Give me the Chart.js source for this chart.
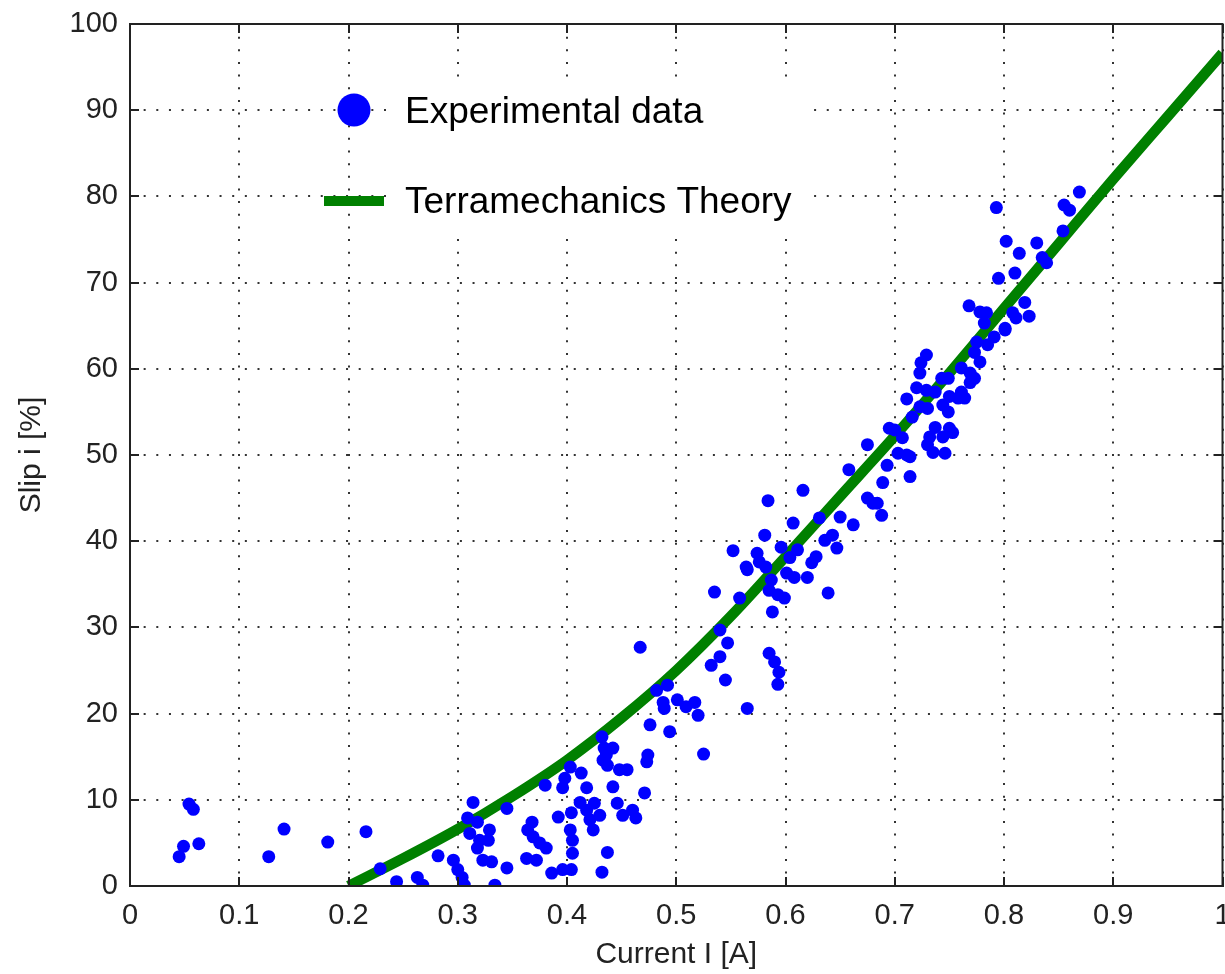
<!DOCTYPE html>
<html>
<head>
<meta charset="utf-8">
<script src="https://cdn.jsdelivr.net/npm/chart.js@4/dist/chart.umd.min.js"></script>
<style>
  html, body { margin: 0; padding: 0; background: #fff; overflow: hidden; }
  #wrap { width: 1225px; height: 974px; overflow: hidden; }
</style>
</head>
<body>
<!-- canvas a little wider than the window so the last x label is cut like the original -->
<div id="wrap"><canvas id="chart" width="1229" height="974"></canvas></div>
<script>
// Experimental data: current I [A] vs slip i [%]
const expX = [
  0.045, 0.049, 0.054, 0.058, 0.063, 0.127, 0.141, 0.181, 0.216, 0.229, 0.244, 0.263, 0.268,
  0.282, 0.296, 0.300, 0.304, 0.306, 0.314, 0.309, 0.318, 0.311, 0.320, 0.318, 0.323, 0.329,
  0.328, 0.331, 0.334, 0.345, 0.345, 0.363, 0.368, 0.364, 0.369, 0.375, 0.372, 0.380, 0.381,
  0.386, 0.392, 0.396, 0.398, 0.396, 0.403, 0.404, 0.405, 0.405, 0.404, 0.403, 0.412, 0.413,
  0.418, 0.418, 0.421, 0.424, 0.425, 0.430, 0.433, 0.437, 0.432, 0.437, 0.442, 0.446, 0.448,
  0.455, 0.451, 0.460, 0.463, 0.471, 0.473,
  0.432, 0.434, 0.442, 0.436, 0.476, 0.494, 0.467, 0.482, 0.492, 0.488, 0.489, 0.501, 0.509,
  0.517, 0.520, 0.525, 0.474, 0.565, 0.532, 0.540, 0.545, 0.547, 0.540, 0.535, 0.558, 0.552,
  0.564, 0.565, 0.574, 0.576, 0.582, 0.581, 0.584, 0.587, 0.585, 0.588, 0.593, 0.599, 0.585,
  0.590, 0.594, 0.593, 0.596, 0.601, 0.607, 0.604, 0.611, 0.608, 0.616, 0.620, 0.624, 0.628,
  0.631, 0.636, 0.643, 0.647, 0.639, 0.650, 0.662, 0.675, 0.680, 0.684, 0.688, 0.689, 0.675,
  0.658,
  0.869, 0.855, 0.860, 0.854, 0.793, 0.802, 0.830, 0.814, 0.835, 0.839, 0.795, 0.810, 0.819,
  0.808, 0.811, 0.823, 0.801, 0.768, 0.778, 0.784, 0.782, 0.791, 0.801, 0.775, 0.785, 0.773,
  0.778, 0.729, 0.724, 0.723, 0.761, 0.769, 0.773, 0.769, 0.743, 0.749, 0.720, 0.729, 0.737,
  0.761, 0.711, 0.750, 0.764, 0.723, 0.730, 0.744, 0.758, 0.716, 0.749, 0.737, 0.750, 0.753,
  0.732, 0.744, 0.730, 0.735, 0.746, 0.695, 0.700, 0.707, 0.703, 0.711, 0.714, 0.693, 0.714
];
const expY = [
  3.4, 4.6, 9.5, 8.9, 4.9, 3.4, 6.6, 5.1, 6.3, 2.0, 0.5, 1.0, 0.1,
  3.5, 3.0, 1.9, 1.0, 0.1, 9.7, 7.9, 7.4, 6.1, 5.3, 4.4, 3.0, 6.5,
  5.3, 2.8, 0.1, 2.1, 9.0, 3.2, 7.4, 6.5, 5.7, 5.0, 3.0, 11.7, 4.4,
  1.5, 8.0, 11.4, 12.5, 1.9, 6.5, 8.5, 5.3, 3.8, 1.9, 13.8, 9.7, 13.1,
  11.4, 8.8, 7.7, 6.5, 9.6, 8.2, 14.6, 3.9, 1.6, 14.0, 11.5, 9.6, 13.5,
  13.5, 8.2, 8.8, 7.9, 10.8, 14.4,
  17.3, 16.0, 16.0, 15.2, 18.7, 17.9, 27.7, 22.7, 23.3, 21.3, 20.6, 21.6, 20.8,
  21.3, 19.8, 15.3, 15.2, 20.6, 25.6, 26.6, 23.9, 28.2, 29.7, 34.1, 33.4, 38.9,
  37.0, 36.7, 38.6, 37.6, 37.0, 40.7, 44.7, 35.5, 34.3, 31.8, 33.8, 33.4, 27.0,
  26.0, 24.8, 23.4, 39.3, 36.3, 42.1, 38.1, 39.0, 35.8, 45.9, 35.8, 37.5, 38.2,
  42.7, 40.1, 40.7, 39.2, 34.0, 42.8, 41.9, 45.0, 44.4, 44.4, 43.0, 46.8, 51.2,
  48.3,
  80.5, 79.0, 78.4, 76.0, 78.7, 74.8, 74.6, 73.4, 72.9, 72.3, 70.5, 71.1, 67.7,
  66.5, 65.9, 66.1, 64.7, 67.3, 66.6, 66.5, 65.3, 63.7, 64.5, 63.1, 62.8, 61.9,
  60.8, 61.6, 60.7, 59.5, 60.1, 59.5, 58.9, 58.4, 58.9, 58.9, 57.8, 57.5, 57.3,
  57.3, 56.5, 56.8, 56.6, 55.6, 55.4, 55.8, 56.6, 54.4, 55.0, 53.2, 53.1, 52.6,
  52.1, 52.1, 51.2, 50.3, 50.2, 53.1, 52.9, 52.0, 50.2, 50.0, 49.8, 48.8, 47.5
];

// Terramechanics theory curve
const theoryX = [0.2, 0.25, 0.3, 0.35, 0.4, 0.45, 0.5, 0.55, 0.6, 0.65, 0.7, 0.75, 0.8, 0.85, 0.9, 0.95, 1.0];
const theoryY = [0, 3.2, 6.6, 10.4, 14.6, 19.5, 25.0, 31.3, 38.2, 45.2, 52.2, 59.5, 67.0, 74.5, 82.0, 89.3, 96.6];

const xTicks = [0, 0.1, 0.2, 0.3, 0.4, 0.5, 0.6, 0.7, 0.8, 0.9, 1];
const yTicks = [0, 10, 20, 30, 40, 50, 60, 70, 80, 90, 100];

const legendLabels = ['Experimental data', 'Terramechanics Theory'];

const BLUE = '#0000ff';
const GREEN = '#008000';
const FONT = "'Liberation Sans', Arial, sans-serif";

// box round the plot + inward tick marks (matlab look)
const framePlugin = {
    id: 'frame',
    afterDraw(chart) {
        const { ctx, chartArea: a, scales } = chart;
        ctx.save();
        ctx.strokeStyle = '#222';
        ctx.lineWidth = 2;
        ctx.strokeRect(a.left, a.top, a.right - a.left, a.bottom - a.top);
        const len = 9;
        ctx.beginPath();
        xTicks.forEach(v => {
            const px = Math.round(scales.x.getPixelForValue(v));
            ctx.moveTo(px, a.bottom); ctx.lineTo(px, a.bottom - len);
            ctx.moveTo(px, a.top); ctx.lineTo(px, a.top + len);
        });
        yTicks.forEach(v => {
            const py = Math.round(scales.y.getPixelForValue(v));
            ctx.moveTo(a.left, py); ctx.lineTo(a.left + len, py);
            ctx.moveTo(a.right, py); ctx.lineTo(a.right - len, py);
        });
        ctx.stroke();
        ctx.restore();
    }
};

// legend sitting inside the axes, top-left
const legendPlugin = {
    id: 'innerLegend',
    afterDraw(chart) {
        const { ctx, chartArea: a } = chart;
        const x0 = a.left + 224;
        const y1 = a.top + 86, y2 = a.top + 177;
        ctx.save();
        ctx.fillStyle = '#fff';
        ctx.fillRect(a.left + 262, a.top + 54, 420, 154);
        ctx.fillStyle = BLUE;
        ctx.beginPath();
        ctx.arc(x0, y1, 16.5, 0, Math.PI * 2);
        ctx.fill();
        ctx.strokeStyle = GREEN;
        ctx.lineWidth = 10;
        ctx.beginPath();
        ctx.moveTo(x0 - 30, y2); ctx.lineTo(x0 + 30, y2);
        ctx.stroke();
        ctx.fillStyle = '#000';
        ctx.font = `37px ${FONT}`;
        ctx.textBaseline = 'middle';
        ctx.fillText(legendLabels[0], a.left + 275, y1 + 3);
        ctx.fillText(legendLabels[1], a.left + 275, y2 + 2);
        ctx.restore();
    }
};

new Chart(document.getElementById('chart'), {
    type: 'scatter',
    data: {
        datasets: [
            {
                label: legendLabels[0],
                data: expX.map((x, i) => ({ x, y: expY[i] })),
                backgroundColor: BLUE,
                borderColor: BLUE,
                borderWidth: 0,
                pointRadius: 6.5,
                pointHoverRadius: 6.5,
            },
            {
                label: legendLabels[1],
                data: theoryX.map((x, i) => ({ x, y: theoryY[i] })),
                showLine: true,
                borderColor: GREEN,
                borderWidth: 10.5,
                pointRadius: 0,
                cubicInterpolationMode: 'monotone',
            },
        ],
    },
    options: {
        responsive: false,
        animation: false,
        devicePixelRatio: 1,
        layout: { padding: { top: 24, right: 2, left: 0, bottom: 0 } },
        plugins: {
            legend: { display: false },
            tooltip: { enabled: false },
        },
        scales: {
            x: {
                type: 'linear',
                min: 0, max: 1,
                afterBuildTicks: (s) => { s.ticks = xTicks.map(v => ({ value: v })); },
                afterFit: (s) => {
                    s.height = 88;
                    s.paddingLeft = 0; s.paddingRight = 0; s.paddingTop = 0; s.paddingBottom = 0;
                },
                grid: { color: '#333', lineWidth: 2, drawTicks: false },
                border: { display: true, color: '#222', width: 2, dash: [2, 10.65] },
                ticks: {
                    padding: 13,
                    color: '#222',
                    font: { family: FONT, size: 29 },
                    maxRotation: 0,
                    callback: (v) => String(v),
                },
                title: {
                    display: true,
                    text: 'Current I [A]',
                    color: '#222',
                    font: { family: FONT, size: 30 },
                    padding: { top: 0, bottom: 1 },
                },
            },
            y: {
                type: 'linear',
                min: 0, max: 100,
                afterBuildTicks: (s) => { s.ticks = yTicks.map(v => ({ value: v })); },
                afterFit: (s) => {
                    s.width = 130;
                    s.paddingLeft = 0; s.paddingRight = 0; s.paddingTop = 0; s.paddingBottom = 0;
                },
                grid: { color: '#333', lineWidth: 2, drawTicks: false },
                border: { display: true, color: '#222', width: 2, dash: [2, 10.65] },
                ticks: {
                    padding: 12,
                    color: '#222',
                    font: { family: FONT, size: 29 },
                },
                title: {
                    display: true,
                    text: 'Slip i [%]',
                    color: '#222',
                    font: { family: FONT, size: 30 },
                    padding: { top: 14, bottom: 0 },
                },
            },
        },
    },
    plugins: [framePlugin, legendPlugin],
});
</script>
</body>
</html>
